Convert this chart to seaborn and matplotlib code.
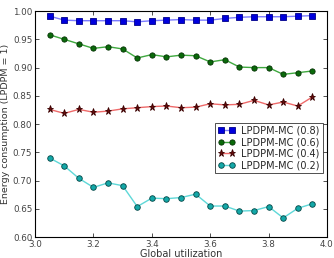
import numpy as np
import pandas as pd
import matplotlib
matplotlib.use('Agg')
import matplotlib.pyplot as plt
import seaborn as sns

# utilisation globale
utilization = [3.05, 3.10, 3.15, 3.20, 3.25, 3.30, 3.35, 3.40, 3.45, 3.50,
               3.55, 3.60, 3.65, 3.70, 3.75, 3.80, 3.85, 3.90, 3.95]

mc_08 = [0.991, 0.984, 0.983, 0.983, 0.983, 0.983, 0.981, 0.983, 0.984, 0.985,
         0.984, 0.984, 0.987, 0.989, 0.990, 0.990, 0.990, 0.991, 0.992]
mc_06 = [0.958, 0.950, 0.942, 0.934, 0.937, 0.933, 0.917, 0.923, 0.919, 0.922,
         0.921, 0.910, 0.914, 0.901, 0.900, 0.900, 0.888, 0.891, 0.894]
mc_04 = [0.826, 0.819, 0.826, 0.821, 0.823, 0.827, 0.829, 0.831, 0.832, 0.829,
         0.830, 0.836, 0.834, 0.835, 0.842, 0.834, 0.839, 0.832, 0.848]
mc_02 = [0.740, 0.726, 0.704, 0.688, 0.696, 0.691, 0.654, 0.669, 0.668, 0.670,
         0.676, 0.655, 0.655, 0.646, 0.647, 0.654, 0.634, 0.651, 0.659]

labels = ['LPDPM-MC (0.8)', 'LPDPM-MC (0.6)', 'LPDPM-MC (0.4)', 'LPDPM-MC (0.2)']

df = pd.DataFrame({'u': utilization, labels[0]: mc_08, labels[1]: mc_06,
                   labels[2]: mc_04, labels[3]: mc_02})

sns.set_style('ticks')
plt.rcParams['font.family'] = ['DejaVu Sans']

fig = plt.figure(figsize=(3.34, 2.58), dpi=100)
ax = fig.add_axes([0.105, 0.081, 0.874, 0.876])

# (ligne, face, bord, marqueur, taille)
styles = [('#7b7bff', '#0000dd', '#00008a', 's', 3.8),
          ('#3fa83f', '#0a6a0a', '#033003', 'o', 3.8),
          ('#ee6a6a', '#6a0a0a', '#3a0000', '*', 5.2),
          ('#5fd8d8', '#13a8a8', '#024545', 'o', 4.0)]

for lab, (lc, fc, ec, mk, ms) in zip(labels, styles):
    sns.lineplot(data=df, x='u', y=lab, ax=ax, color=lc, marker=mk,
                 markersize=ms, markerfacecolor=fc, markeredgecolor=ec,
                 markeredgewidth=0.6, linewidth=1.0, label=lab)

ax.set_xlim(3.0, 4.0)
ax.set_ylim(0.60, 1.00)
ax.set_xticks(np.arange(3.0, 4.01, 0.2))
ax.set_yticks(np.arange(0.60, 1.001, 0.05))
ax.set_xticklabels([f'{v:.1f}' for v in np.arange(3.0, 4.01, 0.2)])
ax.set_yticklabels([f'{v:.2f}' for v in np.arange(0.60, 1.001, 0.05)])
ax.tick_params(direction='in', top=True, right=True, length=3, width=0.6,
               labelsize=6.3, pad=2, colors='#333333', labelcolor='#444444')
for s in ax.spines.values():
    s.set_linewidth(0.8)
    s.set_color('black')

ax.set_xlabel('Global utilization', fontsize=7, labelpad=0, color='#333333')
ax.set_ylabel('Energy consumption (LPDPM = 1)', fontsize=6.8, labelpad=2, color='#333333')

leg = ax.legend(loc='upper right', bbox_to_anchor=(0.985, 0.505), fontsize=7,
                numpoints=2, frameon=True, fancybox=False, borderpad=0.3,
                labelspacing=0.15, handlelength=1.8, handletextpad=0.6,
                borderaxespad=0)
leg.get_frame().set_edgecolor('black')
leg.get_frame().set_linewidth(0.6)

plt.savefig('out.png', dpi=100)
